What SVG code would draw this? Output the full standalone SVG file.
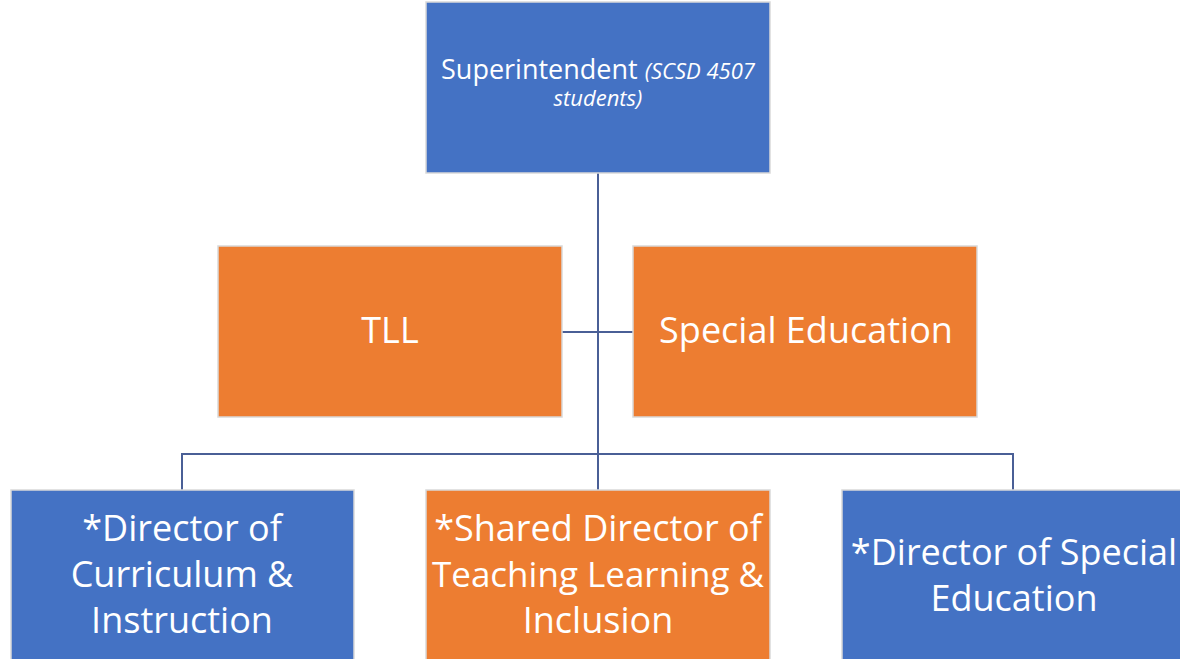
<svg xmlns="http://www.w3.org/2000/svg" width="1180" height="659" viewBox="0 0 1180 659">
  <style>
    .box { stroke: #d9d9d9; stroke-width: 1.5; }
    .blue { fill: #4472c4; }
    .orange { fill: #ed7d31; }
    .lbl { font-family: "Open Sans", "Liberation Sans", sans-serif; fill: #ffffff; text-anchor: middle; }
    .big { font-size: 36px; }
    .link { stroke: #4a5f96; stroke-width: 2; fill: none; }
  </style>
  <rect width="1180" height="659" fill="#ffffff"/>

  <!-- connectors -->
  <g id="connectors">
    <line class="link" x1="598" y1="173" x2="598" y2="490"/>
    <line class="link" x1="562" y1="332" x2="633" y2="332"/>
    <polyline class="link" points="182,490 182,454 1013,454 1013,490"/>
  </g>

  <g id="superintendent">
    <rect class="box blue" x="426" y="2" width="344" height="171"/>
    <text class="lbl" x="598" y="79" font-size="27">Superintendent <tspan font-style="italic" font-size="22">(SCSD 4507</tspan><tspan x="598" y="106" font-style="italic" font-size="22">students)</tspan></text>
  </g>

  <g id="tll">
    <rect class="box orange" x="218" y="246" width="344" height="171"/>
    <text class="lbl big" x="390" y="343">TLL</text>
  </g>

  <g id="special-education">
    <rect class="box orange" x="633" y="246" width="344" height="171"/>
    <text class="lbl big" x="806" y="343">Special Education</text>
  </g>

  <g id="director-curriculum">
    <rect class="box blue" x="11" y="490" width="343" height="175"/>
    <text class="lbl big" x="182" y="541">*Director of</text>
    <text class="lbl big" x="182" y="587">Curriculum &amp;</text>
    <text class="lbl big" x="182" y="633">Instruction</text>
  </g>

  <g id="shared-director">
    <rect class="box orange" x="426" y="490" width="344" height="175"/>
    <text class="lbl big" x="598" y="541">*Shared Director of</text>
    <text class="lbl" x="598" y="587" style="font-size:35px">Teaching Learning &amp;</text>
    <text class="lbl big" x="598" y="633">Inclusion</text>
  </g>

  <g id="director-special">
    <rect class="box blue" x="842" y="490" width="344" height="175"/>
    <text class="lbl big" x="1014" y="565">*Director of Special</text>
    <text class="lbl big" x="1014" y="611">Education</text>
  </g>
</svg>
